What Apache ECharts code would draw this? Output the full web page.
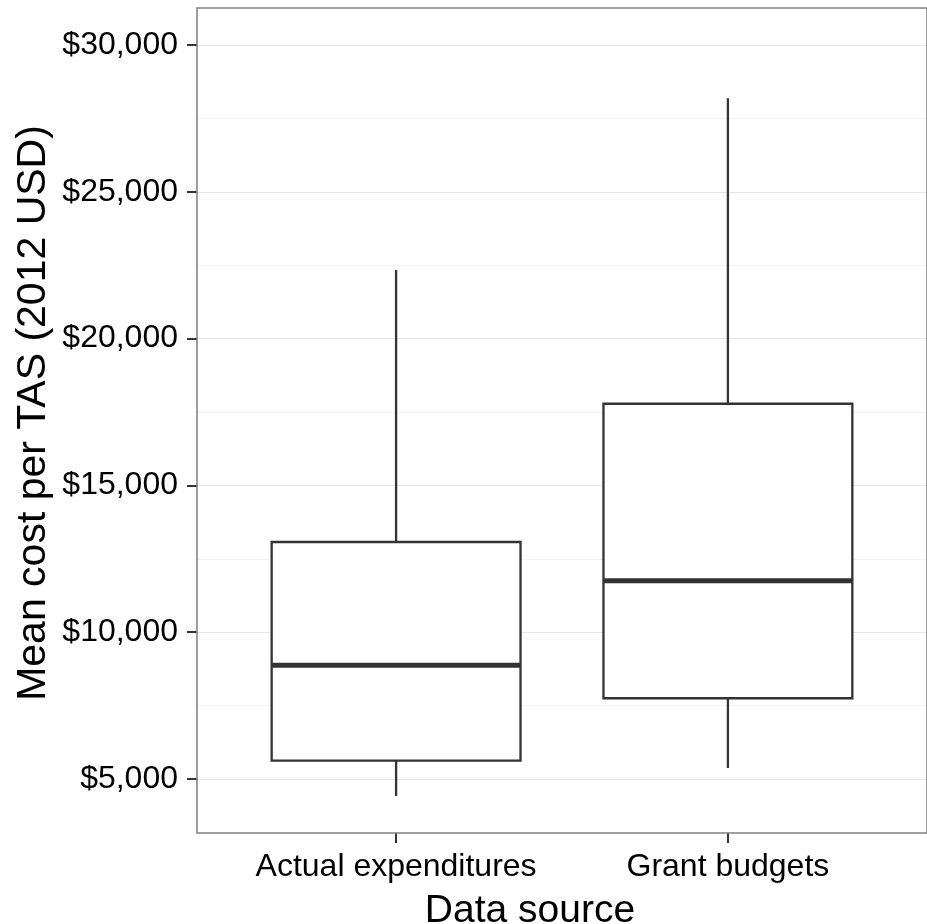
<!DOCTYPE html>
<html>
<head>
<meta charset="utf-8">
<script src="https://cdn.jsdelivr.net/npm/echarts@6/dist/echarts.min.js"></script>
<style>
  html, body { margin: 0; padding: 0; background: #fff; }
  #chart { width: 927px; height: 924px; }
</style>
</head>
<body>
<div id="chart"></div>
<script>
// Mean cost per TAS by data source (2012 USD)
const categories = ['Actual expenditures', 'Grant budgets'];
const lowerWhisker = [4420, 5375];
const q1 = [5623, 7750];
const median = [8873, 11755];
const q3 = [13072, 17780];
const upperWhisker = [22337, 28185];

const yMajorTicks = [5000, 10000, 15000, 20000, 25000, 30000];
const yMinorTicks = [7500, 12500, 17500, 22500, 27500];

const FONT = '"Liberation Sans", Arial, sans-serif';
const INK = '#333333';

// one row per box: [position, low, q1, median, q3, high]
const boxData = categories.map((c, i) => [i + 1, lowerWhisker[i], q1[i], median[i], q3[i], upperWhisker[i]]);

function money(v) {
  return '$' + Math.round(v).toString().replace(/\B(?=(\d{3})+(?!\d))/g, ',');
}

function renderBox(params, api) {
  const x = api.value(0);
  const lo = api.coord([x, api.value(1)]);
  const b1 = api.coord([x, api.value(2)]);
  const md = api.coord([x, api.value(3)]);
  const b3 = api.coord([x, api.value(4)]);
  const hi = api.coord([x, api.value(5)]);
  const half = api.size([0.75, 0])[0] / 2;
  const cx = lo[0];
  return {
    type: 'group',
    children: [
      { type: 'line', shape: { x1: cx, y1: b3[1], x2: cx, y2: hi[1] },
        style: { stroke: INK, lineWidth: 2.3 } },
      { type: 'line', shape: { x1: cx, y1: lo[1], x2: cx, y2: b1[1] },
        style: { stroke: INK, lineWidth: 2.3 } },
      { type: 'rect', shape: { x: cx - half, y: b3[1], width: half * 2, height: b1[1] - b3[1] },
        style: { fill: '#ffffff', stroke: INK, lineWidth: 2.3 } },
      { type: 'line', shape: { x1: cx - half, y1: md[1], x2: cx + half, y2: md[1] },
        style: { stroke: INK, lineWidth: 5 } }
    ]
  };
}

const gridLine = (vals, color) => ({
  silent: true,
  symbol: 'none',
  label: { show: false },
  lineStyle: { color: color, width: 1, type: 'solid' },
  data: vals.map(v => ({ yAxis: v }))
});

const chart = echarts.init(document.getElementById('chart'), null, { renderer: 'canvas' });
chart.setOption({
  animation: false,
  backgroundColor: '#ffffff',
  grid: {
    left: 197, top: 8, width: 735, height: 825,
    show: true, borderColor: '#7f7f7f', borderWidth: 1.5, backgroundColor: 'transparent',
    z: 10
  },
  xAxis: {
    type: 'value',
    min: 0.4, max: 2.6,
    axisLine: { show: false },
    splitLine: { show: false },
    axisTick: { show: true, customValues: [1, 2], length: 10, lineStyle: { color: INK, width: 2 } },
    axisLabel: {
      customValues: [1, 2],
      formatter: v => categories[Math.round(v) - 1] || '',
      color: '#000', fontFamily: FONT, fontSize: 32, margin: 18
    }
  },
  yAxis: {
    type: 'value',
    min: 3160, max: 31260,
    axisLine: { show: false },
    splitLine: { show: false },
    axisTick: { show: true, customValues: yMajorTicks, length: 10, lineStyle: { color: INK, width: 2 } },
    axisLabel: {
      customValues: yMajorTicks,
      formatter: money,
      color: '#000', fontFamily: FONT, fontSize: 32, margin: 19
    }
  },
  graphic: [
    { type: 'text', x: 34, y: 413, rotation: Math.PI / 2,
      style: { text: 'Mean cost per TAS (2012 USD)', fill: '#000', font: '41px ' + FONT,
               textAlign: 'center', textVerticalAlign: 'middle' } },
    { type: 'text', x: 530, y: 911,
      style: { text: 'Data source', fill: '#000', font: '39px ' + FONT,
               textAlign: 'center', textVerticalAlign: 'middle' } }
  ],
  series: [
    { type: 'line', data: [], markLine: gridLine(yMinorTicks, '#f4f4f4'), z: 1 },
    { type: 'line', data: [], markLine: gridLine(yMajorTicks, '#e6e6e6'), z: 1 },
    {
      type: 'custom',
      renderItem: renderBox,
      data: boxData,
      encode: { x: 0, y: [1, 2, 3, 4, 5] },
      z: 5
    }
  ]
});
</script>
</body>
</html>
